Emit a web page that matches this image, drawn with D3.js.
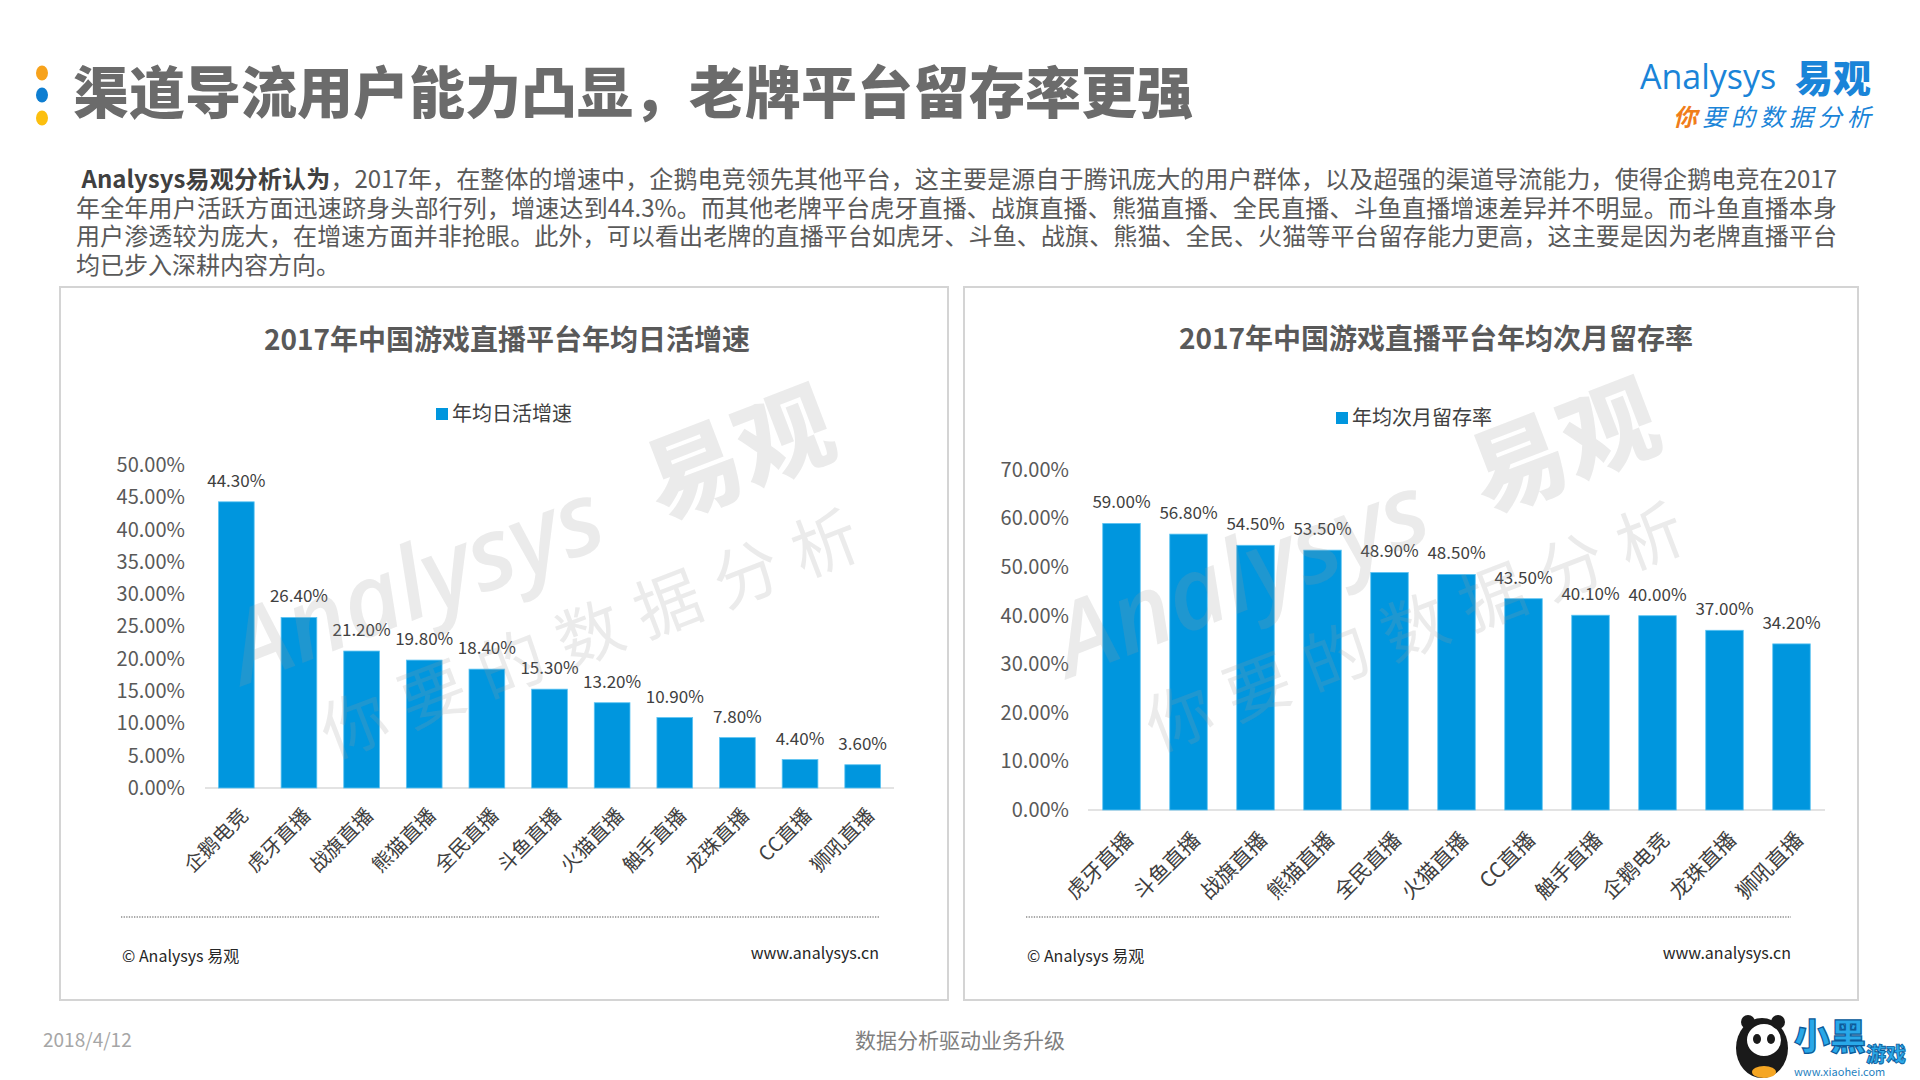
<!DOCTYPE html>
<html>
<head>
<meta charset="utf-8">
<script src="https://cdn.jsdelivr.net/npm/d3@7"></script>
<style>
  body { margin: 0; background: #fff; font-family: "Noto Sans CJK SC", "Noto Sans", sans-serif; }
  #page { position: relative; width: 1920px; height: 1080px; overflow: hidden; }
  .para { position: absolute; left: 76px; top: 164px; width: 1761px; font-size: 24px; color: #595959; line-height: 28.6px; }
  .para div { text-align: justify; text-align-last: justify; height: 28.6px; }
  .para div.last { text-align-last: left; }
  .para b { color: #404040; }
  svg { position: absolute; left: 0; top: 0; }
</style>
</head>
<body>
<div id="page"></div>
<script>
// chart data
var dauCats = ["企鹅电竞", "虎牙直播", "战旗直播", "熊猫直播", "全民直播", "斗鱼直播", "火猫直播", "触手直播", "龙珠直播", "CC直播", "狮吼直播"];
var dauVals = [44.3, 26.4, 21.2, 19.8, 18.4, 15.3, 13.2, 10.9, 7.8, 4.4, 3.6];
var dauTicks = [0, 5, 10, 15, 20, 25, 30, 35, 40, 45, 50];

var retCats = ["虎牙直播", "斗鱼直播", "战旗直播", "熊猫直播", "全民直播", "火猫直播", "CC直播", "触手直播", "企鹅电竞", "龙珠直播", "狮吼直播"];
var retVals = [59.0, 56.8, 54.5, 53.5, 48.9, 48.5, 43.5, 40.1, 40.0, 37.0, 34.2];
var retTicks = [0, 10, 20, 30, 40, 50, 60, 70];

var paraLines = [
  "，2017年，在整体的增速中，企鹅电竞领先其他平台，这主要是源自于腾讯庞大的用户群体，以及超强的渠道导流能力，使得企鹅电竞在2017",
  "年全年用户活跃方面迅速跻身头部行列，增速达到44.3%。而其他老牌平台虎牙直播、战旗直播、熊猫直播、全民直播、斗鱼直播增速差异并不明显。而斗鱼直播本身",
  "用户渗透较为庞大，在增速方面并非抢眼。此外，可以看出老牌的直播平台如虎牙、斗鱼、战旗、熊猫、全民、火猫等平台留存能力更高，这主要是因为老牌直播平台",
  "均已步入深耕内容方向。"
];

var blue = "#0096DE";
var page = d3.select("#page");

var svg = page.append("svg")
    .attr("width", 1920)
    .attr("height", 1080);

// header bullets + title
var dots = [["#F7A21B", 73], ["#0E7ED1", 95], ["#FCBF0F", 118]];
svg.selectAll("ellipse.dot").data(dots).enter().append("ellipse")
    .attr("class", "dot")
    .attr("cx", 42).attr("cy", function (d) { return d[1]; })
    .attr("rx", 6).attr("ry", 7.5)
    .attr("fill", function (d) { return d[0]; });

svg.append("text")
    .attr("x", 73).attr("y", 113)
    .attr("font-size", 56).attr("font-weight", 900)
    .attr("fill", "#6B6B6B")
    .text("渠道导流用户能力凸显，老牌平台留存率更强");

// top right logo
var logo = svg.append("g");
logo.append("text")
    .attr("x", 1640).attr("y", 89)
    .attr("font-family", "Open Sans, sans-serif").attr("font-size", 34)
    .attr("fill", "#1A84D8")
    .text("Analysys");
logo.append("text")
    .attr("x", 1871).attr("y", 92).attr("text-anchor", "end")
    .attr("font-size", 38).attr("font-weight", 900)
    .attr("fill", "#1A84D8")
    .text("易观");
var sub = logo.append("text")
    .attr("x", 1673).attr("y", 126)
    .attr("font-size", 24).attr("font-style", "italic").attr("letter-spacing", 5);
sub.append("tspan").attr("fill", "#F07D1A").attr("font-weight", 700).text("你");
sub.append("tspan").attr("fill", "#1A84D8").text("要的数据分析");

// paragraph
var para = page.append("div").attr("class", "para");
paraLines.forEach(function (line, i) {
    var row = para.append("div");
    if (i === paraLines.length - 1) row.attr("class", "last");
    if (i === 0) {
        row.append("b").text("\u00a0Analysys易观分析认为");
        row.append("span").text(line);
    } else {
        row.text(line);
    }
});

// one chart panel
function drawPanel(cfg) {
    var g = svg.append("g");

    g.append("rect")
        .attr("x", cfg.box[0]).attr("y", cfg.box[1])
        .attr("width", cfg.box[2]).attr("height", cfg.box[3])
        .attr("fill", "#fff").attr("stroke", "#D4D4D4").attr("stroke-width", 2);

    g.append("text")
        .attr("x", cfg.titleX).attr("y", cfg.titleY)
        .attr("text-anchor", "middle")
        .attr("font-size", 28).attr("font-weight", 700)
        .attr("fill", "#595959")
        .text(cfg.title);

    // legend
    g.append("rect")
        .attr("x", cfg.legX).attr("y", cfg.legY - 6)
        .attr("width", 12).attr("height", 12)
        .attr("fill", blue);
    g.append("text")
        .attr("x", cfg.legX + 16).attr("y", cfg.legY).attr("dy", "0.35em")
        .attr("font-size", 20).attr("fill", "#404040")
        .text(cfg.legend);

    var x = d3.scaleBand()
        .domain(cfg.cats)
        .range(cfg.xr)
        .paddingInner(cfg.pad)
        .paddingOuter(cfg.pad / 2);

    var y = d3.scaleLinear()
        .domain([0, d3.max(cfg.ticks)])
        .range(cfg.yr);

    // y axis labels
    var yAxis = d3.axisLeft(y)
        .tickValues(cfg.ticks)
        .tickSize(0)
        .tickPadding(0)
        .tickFormat(function (d) { return d3.format(".2f")(d) + "%"; });
    var ya = g.append("g")
        .attr("transform", "translate(" + cfg.yLabelX + ",0)")
        .call(yAxis);
    ya.select(".domain").remove();
    ya.selectAll("text")
        .attr("font-family", "Noto Sans CJK SC, sans-serif")
        .attr("font-size", 20).attr("fill", "#595959");

    // baseline
    g.append("line")
        .attr("x1", cfg.xr[0]).attr("x2", cfg.xr[1])
        .attr("y1", y(0)).attr("y2", y(0))
        .attr("stroke", "#E3E3E3").attr("stroke-width", 2);

    // bars
    g.selectAll("rect.bar")
        .data(cfg.vals)
        .enter()
        .append("rect")
        .attr("class", "bar")
        .attr("x", function (d, i) { return x(cfg.cats[i]); })
        .attr("width", x.bandwidth())
        .attr("y", function (d) { return y(d); })
        .attr("height", function (d) { return y(0) - y(d); })
        .attr("fill", blue)
        .attr("stroke", "#5CC3F2").attr("stroke-width", 0.8);

    // value labels
    g.selectAll("text.val")
        .data(cfg.vals)
        .enter()
        .append("text")
        .attr("class", "val")
        .attr("x", function (d, i) { return x(cfg.cats[i]) + x.bandwidth() / 2; })
        .attr("y", function (d) { return y(d) - 15; })
        .attr("text-anchor", "middle")
        .attr("font-size", 17).attr("fill", "#404040")
        .text(function (d) { return d3.format(".2f")(d) + "%"; });

    // category labels, rotated
    g.selectAll("text.cat")
        .data(cfg.cats)
        .enter()
        .append("text")
        .attr("class", "cat")
        .attr("transform", function (d) {
            return "translate(" + (x(d) + x.bandwidth() / 2 + 8) + "," + (y(0) + cfg.catDy) + ") rotate(-45)";
        })
        .attr("text-anchor", "end")
        .attr("dy", "0.35em")
        .attr("font-size", cfg.catSize).attr("fill", "#404040")
        .text(function (d) { return d; });

    // dotted separator and footer
    g.append("line")
        .attr("x1", cfg.dot[0]).attr("x2", cfg.dot[1])
        .attr("y1", 917).attr("y2", 917)
        .attr("stroke", "#8C8C8C").attr("stroke-width", 1.3)
        .attr("stroke-dasharray", "1.3,1.3");
    g.append("text")
        .attr("x", cfg.dot[0] + 1).attr("y", 962)
        .attr("font-size", 16).attr("fill", "#262626")
        .text("© Analysys 易观");
    g.append("text")
        .attr("x", cfg.dot[1]).attr("y", 959)
        .attr("text-anchor", "end")
        .attr("font-size", 16).attr("fill", "#262626")
        .text("www.analysys.cn");

    // watermark on top
    var wm = g.append("g")
        .attr("transform", "translate(" + cfg.wm[0] + "," + cfg.wm[1] + ") rotate(-21)")
        .attr("fill", "#9A9A9A").attr("fill-opacity", 0.2);
    wm.append("text")
        .attr("x", 0).attr("y", 0)
        .attr("font-family", "Open Sans, sans-serif").attr("font-style", "italic")
        .attr("font-weight", 600)
        .attr("font-size", 100)
        .text("Analysys");
    wm.append("text")
        .attr("x", 448).attr("y", -4)
        .attr("font-size", 96).attr("font-weight", 900)
        .text("易观");
    wm.append("text")
        .attr("x", 55).attr("y", 100)
        .attr("font-size", 66).attr("letter-spacing", 18)
        .text("你要的数据分析");
}

drawPanel({
    box: [60, 287, 888, 713],
    title: "2017年中国游戏直播平台年均日活增速",
    titleX: 507, titleY: 350,
    legend: "年均日活增速",
    legX: 436, legY: 414,
    cats: dauCats, vals: dauVals, ticks: dauTicks,
    xr: [205, 894], yr: [788, 465], pad: 0.43,
    yLabelX: 185,
    catDy: 24, catSize: 20,
    dot: [121, 879],
    wm: [245, 685]
});

drawPanel({
    box: [964, 287, 894, 713],
    title: "2017年中国游戏直播平台年均次月留存率",
    titleX: 1436, titleY: 349,
    legend: "年均次月留存率",
    legX: 1336, legY: 418,
    cats: retCats, vals: retVals, ticks: retTicks,
    xr: [1088, 1825], yr: [810, 470], pad: 0.44,
    yLabelX: 1069,
    catDy: 26, catSize: 21,
    dot: [1026, 1791],
    wm: [1070, 678]
});

// bottom line
svg.append("text")
    .attr("x", 43).attr("y", 1047)
    .attr("font-size", 19).attr("fill", "#A6A6A6")
    .text("2018/4/12");
svg.append("text")
    .attr("x", 960).attr("y", 1048).attr("text-anchor", "middle")
    .attr("font-size", 21).attr("fill", "#7F7F7F")
    .text("数据分析驱动业务升级");

// bottom right badge (panda + 小黑游戏)
var badge = svg.append("g").attr("transform", "translate(1730,1010)");
badge.append("ellipse").attr("cx", 32).attr("cy", 38).attr("rx", 26).attr("ry", 30).attr("fill", "#1A1A1A");
badge.append("ellipse").attr("cx", 34).attr("cy", 30).attr("rx", 18).attr("ry", 17).attr("fill", "#FFFFFF").attr("stroke", "#1A1A1A").attr("stroke-width", 2);
badge.append("circle").attr("cx", 18).attr("cy", 12).attr("r", 7).attr("fill", "#1A1A1A");
badge.append("circle").attr("cx", 48).attr("cy", 12).attr("r", 7).attr("fill", "#1A1A1A");
badge.append("ellipse").attr("cx", 27).attr("cy", 29).attr("rx", 4).attr("ry", 5).attr("fill", "#1A1A1A");
badge.append("ellipse").attr("cx", 41).attr("cy", 29).attr("rx", 4).attr("ry", 5).attr("fill", "#1A1A1A");
badge.append("ellipse").attr("cx", 34).attr("cy", 62).attr("rx", 12).attr("ry", 6).attr("fill", "#F5A623");
badge.append("text").attr("x", 64).attr("y", 40)
    .attr("font-size", 36).attr("font-weight", 900).attr("fill", "#29A8E8")
    .attr("stroke", "#0B5A9A").attr("stroke-width", 1.2)
    .text("小黑");
badge.append("text").attr("x", 136).attr("y", 52)
    .attr("font-size", 20).attr("font-weight", 900).attr("fill", "#29A8E8")
    .attr("stroke", "#0B5A9A").attr("stroke-width", 0.8)
    .text("游戏");
badge.append("text").attr("x", 64).attr("y", 66)
    .attr("font-size", 11).attr("fill", "#1F7FC0")
    .text("www.xiaohei.com");
</script>
</body>
</html>
